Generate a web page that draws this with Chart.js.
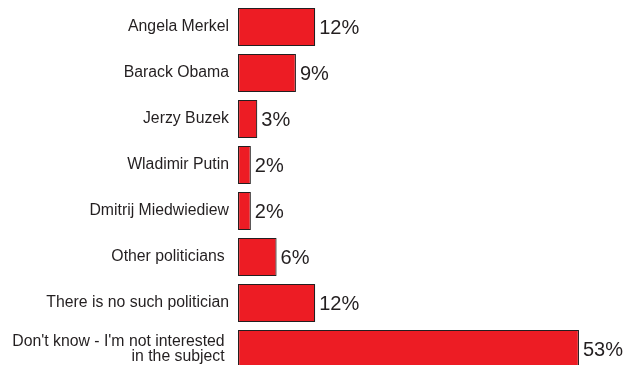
<!DOCTYPE html>
<html>
<head>
<meta charset="utf-8">
<script src="https://cdn.jsdelivr.net/npm/chart.js@4"></script>
<style>
    html, body { margin: 0; padding: 0; background: #fff; }
    body { width: 626px; height: 365px; overflow: hidden; }
    .chart-box { position: relative; width: 626px; height: 372px; }
</style>
</head>
<body>
<div class="chart-box"><canvas id="politicianChart"></canvas></div>
<script>
// categories (last one wraps onto two lines)
const categories = [
    'Angela Merkel',
    'Barack Obama',
    'Jerzy Buzek',
    'Wladimir Putin',
    'Dmitrij Miedwiediew',
    'Other politicians ',
    'There is no such politician',
    ["Don't know - I'm not interested ", 'in the subject ']
];
// share of answers, in percent
const shares = [12, 9, 3, 2, 2, 6, 12, 53];
const valueSuffix = '%';

document.addEventListener('DOMContentLoaded', () => {
    const ctx = document.getElementById('politicianChart').getContext('2d');

    // percent labels drawn just past the end of each bar
    const valueLabels = {
        id: 'valueLabels',
        afterDatasetsDraw(chart) {
            const meta = chart.getDatasetMeta(0);
            const c = chart.ctx;
            c.save();
            c.font = '20px "Liberation Sans", Arial, sans-serif';
            c.fillStyle = '#231f20';
            c.textAlign = 'left';
            c.textBaseline = 'middle';
            meta.data.forEach((bar, i) => {
                c.fillText(shares[i] + valueSuffix, bar.x + 4, bar.y + 1);
            });
            c.restore();
        }
    };

    new Chart(ctx, {
        type: 'bar',
        data: {
            labels: categories,
            datasets: [{
                data: shares,
                backgroundColor: '#ed1c24',
                borderColor: '#231f20',
                borderWidth: 1.2,
                borderSkipped: false,
                barPercentage: 0.83,
                categoryPercentage: 1
            }]
        },
        options: {
            indexAxis: 'y',
            responsive: true,
            maintainAspectRatio: false,
            animation: false,
            layout: { padding: { top: 4, right: 2, bottom: 0, left: 0 } },
            plugins: {
                legend: { display: false },
                tooltip: { enabled: false }
            },
            scales: {
                x: {
                    display: false,
                    min: 0,
                    max: 60
                },
                y: {
                    grid: { display: false, drawTicks: false, tickLength: 0 },
                    border: { display: false },
                    ticks: {
                        padding: 9,
                        color: '#231f20',
                        font: { family: '"Liberation Sans", Arial, sans-serif', size: 15.8, lineHeight: 0.92 }
                    },
                    afterFit(scale) {
                        // fixed label column, and no extra vertical room for the labels
                        scale.width = 238;
                        scale.paddingTop = 0;
                        scale.paddingBottom = 0;
                    }
                }
            }
        },
        plugins: [valueLabels]
    });
});
</script>
</body>
</html>
